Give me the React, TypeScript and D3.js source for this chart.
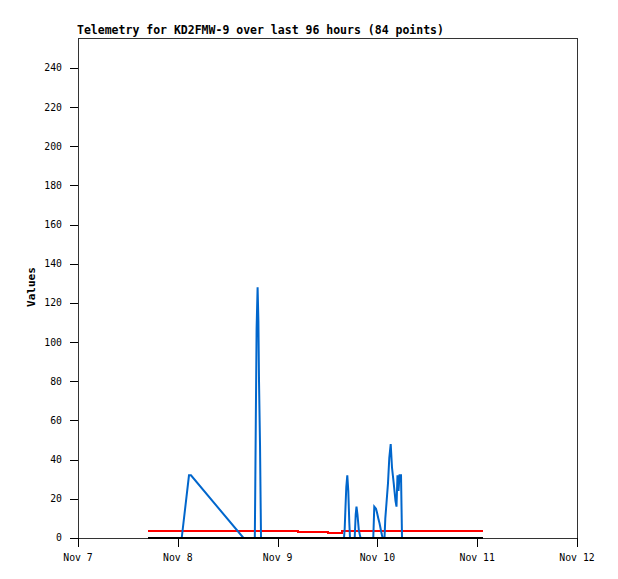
import React from "react";
import * as d3 from "d3";

// hours after Nov 7 00:00
const blueHours = [24.94, 26.69, 27.17, 39.8, 42.52, 42.61, 42.76, 42.95, 43.19, 43.38, 43.53, 43.77, 44.01,
  63.97, 64.14, 64.33, 64.52, 64.76, 65.0, 65.24, 65.41,
  66.54, 66.78, 66.97, 67.21, 67.53, 67.94,
  71.01, 71.25, 71.66, 71.9, 72.22, 72.51, 72.75, 73.03, 73.27,
  73.71, 73.9, 74.19, 74.55, 74.86, 75.2, 75.51, 75.92, 76.35, 76.59, 76.83, 77.08, 77.32, 77.68, 77.92, 97.32];
const blueValues = [0, 32, 32, 0, 0, 21, 60, 107, 128, 111, 80, 48, 0,
  0, 5, 16, 26, 32, 24, 8, 0,
  0, 12, 16, 12, 4, 0,
  0, 16, 15, 13, 10, 7.5, 5, 2, 0,
  0, 10, 18, 28, 41, 48, 36, 28, 19, 16, 32, 24, 32, 32, 0, 0];

const redHours = [16.83, 52.98, 53.0, 60.03, 60.05, 63.39, 63.41, 97.32];
const redValues = [3.6, 3.6, 3.1, 3.1, 2.6, 2.6, 3.6, 3.6];

const blackHours = [16.83, 97.32];
const blackValues = [0, 0];

const yTicks = [0, 20, 40, 60, 80, 100, 120, 140, 160, 180, 200, 220, 240];
const title = "Telemetry for KD2FMW-9 over last 96 hours (84 points)";
const yLabel = "Values";

const BASE = new Date(2023, 10, 7).getTime();
const toDate = (h: number) => new Date(BASE + h * 3600e3);

export default function App() {
  const W = 618, H = 579;
  const left = 78, right = 577, top = 38, bottom = 538;
  const x = d3.scaleTime().domain([new Date(2023, 10, 7), new Date(2023, 10, 12)]).range([left, right]);
  const y = d3.scaleLinear().domain([0, 255.3]).range([bottom, top]);
  const xTicks = x.ticks(d3.timeDay.every(1)!);
  const fmt = d3.timeFormat("%b %-d");
  const line = d3.line<[number, number]>().x(d => x(toDate(d[0]))).y(d => y(d[1]));
  const mk = (hs: number[], vs: number[]) => line(hs.map((h, i) => [h, vs[i]] as [number, number])) || "";
  const mono = "'DejaVu Sans Mono', 'Liberation Mono', monospace";
  return (
    <svg width={W} height={H} style={{ position: "absolute", left: 0, top: 0, background: "#fff" }}
      xmlns="http://www.w3.org/2000/svg">
      <rect x={0} y={0} width={W} height={H} fill="#fff" />
      <text x={77} y={34} fontFamily={mono} fontWeight="bold" fontSize={11.5} fill="#000">{title}</text>
      <rect x={left + 0.5} y={top + 0.5} width={right - left} height={bottom - top} fill="none" stroke="#333" strokeWidth={1} shapeRendering="crispEdges" />
      {yTicks.map(t => (
        <g key={t}>
          <line x1={left - 8} x2={left} y1={Math.round(y(t)) + 0.5} y2={Math.round(y(t)) + 0.5} stroke="#000" shapeRendering="crispEdges" />
          <text x={62} y={y(t)} dy="0.35em" textAnchor="end" fontFamily={mono} fontSize={9.8} fill="#000">{t}</text>
        </g>
      ))}
      {xTicks.map((t, i) => (
        <g key={i}>
          <line x1={Math.round(x(t)) + 0.5} x2={Math.round(x(t)) + 0.5} y1={bottom} y2={bottom + 9} stroke="#000" shapeRendering="crispEdges" />
          <text x={x(t)} y={561} textAnchor="middle" fontFamily={mono} fontSize={9.8} fill="#000">{fmt(t)}</text>
        </g>
      ))}
      <text transform={`translate(35,287) rotate(-90)`} textAnchor="middle" fontFamily={mono} fontWeight="bold" fontSize={11} fill="#000">{yLabel}</text>
      <path d={mk(redHours, redValues)} fill="none" stroke="#ff0000" strokeWidth={2} shapeRendering="crispEdges" />
      <path d={mk(blueHours, blueValues)} fill="none" stroke="#0066cc" strokeWidth={2} strokeLinejoin="miter" />
      <path d={mk(blackHours, blackValues)} fill="none" stroke="#000" strokeWidth={2} shapeRendering="crispEdges" />
    </svg>
  );
}
